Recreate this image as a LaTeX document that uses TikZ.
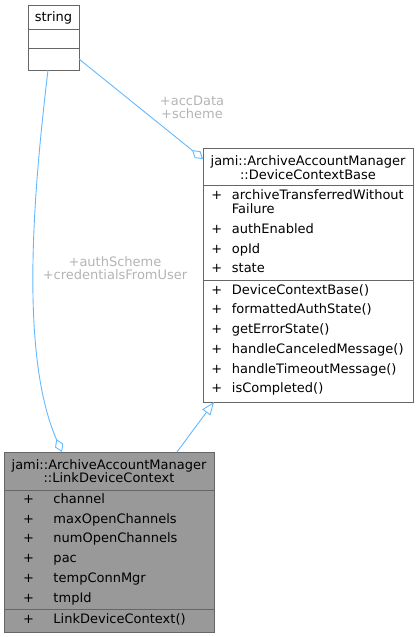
\documentclass[tikz,border=0pt]{standalone}
\usepackage{fontspec}
\setmainfont{DejaVu Sans}
\usepackage{array}
\usetikzlibrary{arrows.meta,positioning}
\definecolor{edgeblue}{HTML}{63B8FF}
\definecolor{boxgray}{HTML}{666666}
\definecolor{fillgray}{HTML}{999999}
\definecolor{lblgray}{HTML}{B4B4B4}

\begin{document}
\begin{tikzpicture}[
  x=1pt,y=-1pt,
  font=\fontsize{13}{19.75}\selectfont,
  cmp/.style={rectangle,draw=boxgray,line width=1pt,fill=white,inner sep=0pt,outer sep=0pt,minimum width=210pt},
  ttl/.style={inner sep=0pt,anchor=base,font=\fontsize{13}{13.4}\selectfont},
  mem/.style={inner sep=0pt,anchor=base west},
  lbl/.style={inner sep=0pt,anchor=base,text=lblgray,font=\fontsize{13}{13.4}\selectfont},
  assoc/.style={draw=edgeblue,line width=0.9pt,-{Diamond[open,length=14pt,width=9pt]}},
  inherit/.style={draw=edgeblue,line width=0.9pt,-{Triangle[open,length=13pt,width=10pt]}}
]
\useasboundingbox (0,0) rectangle (419,637);

% string
\node[cmp,minimum width=51pt,minimum height=24pt,anchor=north west] (str) at (28,5) {};
\node[cmp,minimum width=51pt,minimum height=19pt,below=0pt of str] (strA) {};
\node[cmp,minimum width=51pt,minimum height=22pt,below=0pt of strA] (strO) {};
\node[ttl] (strT) at (53.5,21.7) {string};

% DeviceContextBase
\node[cmp,minimum height=37pt,anchor=north west] (dcb) at (203,148) {};
\node[cmp,minimum height=95pt,below=0pt of dcb] (dcbA) {};
\node[cmp,minimum height=122pt,below=0pt of dcbA] (dcbO) {};
\node[ttl] (dcbT) at (308,165.7) {\begin{tabular}[t]{@{}c@{}}jami::ArchiveAccountManager\\::DeviceContextBase\end{tabular}};
\node[mem] (dcbAT) at (203,199.3) {\begin{tabular}[t]{@{}w{c}{27.4pt}@{\hspace{1.3pt}}l@{}}
  + & archiveTransferredWithout\\[-5.75pt]
    & Failure\\[0.25pt]
  + & authEnabled\\
  + & opId\\
  + & state
\end{tabular}};
\node[mem] (dcbOT) at (203,294) {\begin{tabular}[t]{@{}w{c}{27.4pt}@{\hspace{1.3pt}}l@{}}
  + & DeviceContextBase()\\
  + & formattedAuthState()\\
  + & getErrorState()\\
  + & handleCanceledMessage()\\
  + & handleTimeoutMessage()\\
  + & isCompleted()
\end{tabular}};

% LinkDeviceContext
\node[cmp,fill=fillgray,minimum height=38pt,anchor=north west] (ldc) at (4,452) {};
\node[cmp,fill=fillgray,minimum height=119pt,below=0pt of ldc] (ldcA) {};
\node[cmp,fill=fillgray,minimum height=23pt,below=0pt of ldcA] (ldcO) {};
\node[ttl] (ldcT) at (109,469) {\begin{tabular}[t]{@{}c@{}}jami::ArchiveAccountManager\\::LinkDeviceContext\end{tabular}};
\node[mem] (ldcAT) at (4,503.3) {\begin{tabular}[t]{@{}w{c}{48.6pt}@{\hspace{0.7pt}}l@{}}
  + & channel\\
  + & maxOpenChannels\\
  + & numOpenChannels\\
  + & pac\\
  + & tempConnMgr\\
  + & tmpId
\end{tabular}};
\node[mem] (ldcOT) at (4,623) {\begin{tabular}[t]{@{}w{c}{48.6pt}@{\hspace{0.7pt}}l@{}}
  + & LinkDeviceContext()
\end{tabular}};

% labels
\node[lbl] (accLbl) at (192,105) {\begin{tabular}[t]{@{}c@{}}+accData\\+scheme\end{tabular}};
\node[lbl] (authLbl) at (115,266) {\begin{tabular}[t]{@{}c@{}}+authScheme\\+credentialsFromUser\end{tabular}};

% edges
\draw[assoc] (strO.east) -- ([yshift=7.5pt]dcb.west);
\draw[assoc] ([xshift=-5.5pt]strO.south) .. controls (35,180) and (18,352) .. ([xshift=-47pt]ldc.north);
\draw[inherit] ([xshift=68pt]ldc.north) -- ([xshift=-94pt]dcbO.south);
\end{tikzpicture}
\end{document}
